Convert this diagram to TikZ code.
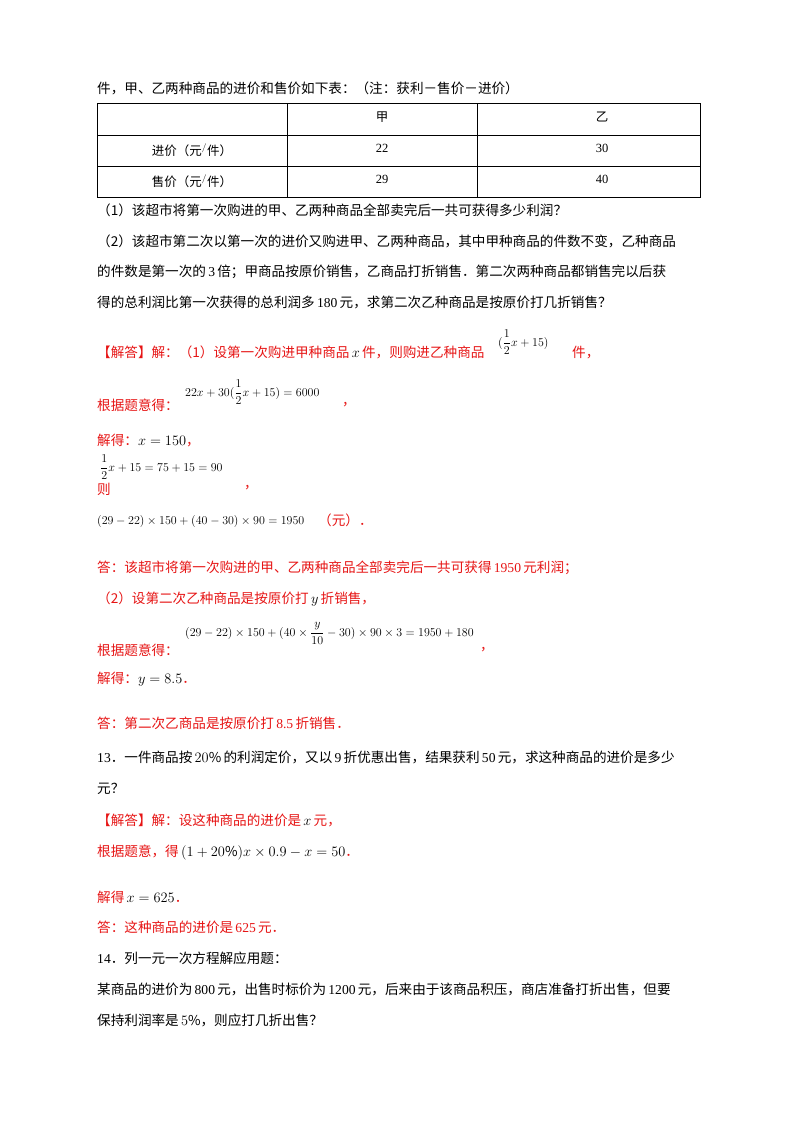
\documentclass[tikz,border=0pt]{standalone}
\usepackage{fontspec}
\setmainfont{Noto Sans CJK SC}
\newfontfamily\tnr{Liberation Serif}
\definecolor{ans}{RGB}{230,20,20}
\begin{document}
\begin{tikzpicture}[x=1pt,y=-1pt,
  t/.style={anchor=base west,inner sep=0pt,font=\fontsize{13.6}{16}\selectfont},
  r/.style={t,text=ans},
  c/.style={anchor=base,inner sep=0pt,font=\fontsize{12.5}{15}\selectfont},
  m/.style={anchor=base west,inner sep=0pt,font=\fontsize{12.5}{15}\selectfont}]
\useasboundingbox (0,0) rectangle (800,1132);
\node[t] (l1) at (97,93) {件，甲、乙两种商品的进价和售价如下表：（注：获利－售价－进价）};
\draw[line width=0.6pt] (97,103) rectangle (700,197);
\draw[line width=0.6pt] (97,135) -- (700,135) (97,166) -- (700,166) (287,103) -- (287,197) (477,103) -- (477,197);
\node[c] (h1) at (382,121) {甲};
\node[c] (h2) at (602,121) {乙};
\node[c] (a0) at (192,155) {进价（元$^{/}$件）};
\node[c] (a1) at (382,152) {\tnr 22};
\node[c] (a2) at (602,152) {\tnr 30};
\node[c] (b0) at (192,186) {售价（元$^{/}$件）};
\node[c] (b1) at (382,183) {\tnr 29};
\node[c] (b2) at (602,183) {\tnr 40};
\node[t] (q1) at (97,215) {（1）该超市将第一次购进的甲、乙两种商品全部卖完后一共可获得多少利润？};
\node[t] (q2) at (97,246) {（2）该超市第二次以第一次的进价又购进甲、乙两种商品，其中甲种商品的件数不变，乙种商品};
\node[t] (q3) at (97,276) {的件数是第一次的\,{\tnr 3}\,倍；甲商品按原价销售，乙商品打折销售．第二次两种商品都销售完以后获};
\node[t] (q4) at (97,307) {得的总利润比第一次获得的总利润多\,{\tnr 180}\,元，求第二次乙种商品是按原价打几折销售？};
\node[r] (s1) at (97,357) {【解答】解：（1）设第一次购进甲种商品\,\textcolor{black}{$x$}\,件，则购进乙种商品};
\node[m] (s1m) at (498,346) {$\displaystyle(\frac{1}{2}x+15)$};
\node[r] (s1e) at (572,357) {件，};
\node[m] (e1) at (185,396) {$\displaystyle 22x+30(\frac{1}{2}x+15)=6000$};
\node[r] (s2) at (97,410) {根据题意得：};
\node[r] (s2e) at (342,405) {，};
\node[r] (s3) at (97,445) {解得：\textcolor{black}{$x=150$}，};
\node[m] (e2) at (100,471) {$\displaystyle\frac{1}{2}x+15=75+15=90$};
\node[r] (s4) at (97,494) {则};
\node[r] (s4e) at (244,488) {，};
\node[m] (e3) at (97,524) {$(29-22)\times150+(40-30)\times90=1950$};
\node[r] (s5) at (318,525) {（元）．};
\node[r] (s6) at (97,572) {答：该超市将第一次购进的甲、乙两种商品全部卖完后一共可获得\,{\tnr 1950}\,元利润；};
\node[r] (s7) at (97,603) {（2）设第二次乙种商品是按原价打\,\textcolor{black}{$y$}\,折销售，};
\node[m] (e4) at (185,636) {$\displaystyle(29-22)\times150+(40\times\frac{y}{10}-30)\times90\times3=1950+180$};
\node[r] (s8) at (97,655) {根据题意得：};
\node[r] (s8e) at (480,650) {，};
\node[r] (s9) at (97,683) {解得：\textcolor{black}{$y=8.5$}．};
\node[r] (s10) at (97,728) {答：第二次乙商品是按原价打\,{\tnr 8.5}\,折销售．};
\node[t] (p13) at (97,762) {{\tnr 13}．一件商品按\,$20\%$\,的利润定价，又以\,{\tnr 9}\,折优惠出售，结果获利\,{\tnr 50}\,元，求这种商品的进价是多少};
\node[t] (p13b) at (97,793) {元？};
\node[r] (s11) at (97,825) {【解答】解：设这种商品的进价是\,\textcolor{black}{$x$}\,元，};
\node[r] (s12) at (97,856) {根据题意，得\,\textcolor{black}{$(1+20\%)x\times0.9-x=50$}．};
\node[r] (s13) at (97,902) {解得\,\textcolor{black}{$x=625$}．};
\node[r] (s14) at (97,932) {答：这种商品的进价是\,{\tnr 625}\,元．};
\node[t] (p14) at (97,963) {{\tnr 14}．列一元一次方程解应用题：};
\node[t] (p14b) at (97,994) {某商品的进价为\,{\tnr 800}\,元，出售时标价为\,{\tnr 1200}\,元，后来由于该商品积压，商店准备打折出售，但要};
\node[t] (p14c) at (97,1025) {保持利润率是\,$5\%$，则应打几折出售？};
\end{tikzpicture}
\end{document}
